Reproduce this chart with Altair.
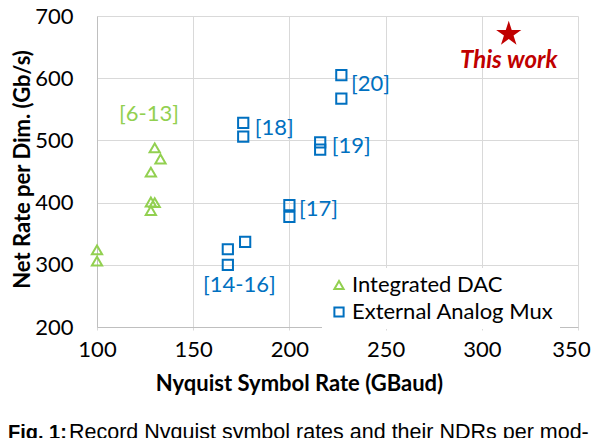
import altair as alt
import pandas as pd

# --- data ---
dac_x = [100, 100, 128, 128, 130, 128, 130, 133]
dac_y = [324, 306, 387, 401, 400, 449, 488, 470]

mux_x = [168, 168, 177, 176, 176, 200, 200, 216, 216, 227, 227]
mux_y = [300, 325, 337, 506, 528, 377, 396, 485, 497, 567, 605]

star_x = [314]
star_y = [671]

dac_labels = ["[6-13]"]
dac_lx = [127]
dac_ly = [542]

mux_center_labels = ["[14-16]"]
mux_center_lx = [174]
mux_center_ly = [267]

mux_left_labels = ["[17]", "[18]", "[19]", "[20]"]
mux_left_lx = [205, 182, 222, 232]
mux_left_ly = [389, 520, 491, 590]

this_work = ["This work"]
this_lx = [314]
this_ly = [628]

caption_bold = "Fig. 1:"
caption_rest = "Record Nyquist symbol rates and their NDRs per mod-"

series_names = ["Integrated DAC", "External Analog Mux"]
series_colors = ["#92D050", "#0070C0"]
series_shapes = ["triangle-up", "square"]

FONT = "Lato"
STAR_PATH = ("M0,-1L0.2245,-0.309L0.951,-0.309L0.363,0.118L0.588,0.809L0,0.382"
             "L-0.588,0.809L-0.363,0.118L-0.951,-0.309L-0.2245,-0.309Z")

pts = pd.DataFrame({
    "x": dac_x + mux_x,
    "y": dac_y + mux_y,
    "series": [series_names[0]] * len(dac_x) + [series_names[1]] * len(mux_x),
})

xscale = alt.Scale(domain=[100, 350], nice=False, zero=False)
yscale = alt.Scale(domain=[200, 700], nice=False, zero=False)

xaxis = alt.Axis(
    title="Nyquist Symbol Rate (GBaud)", values=[100, 150, 200, 250, 300, 350],
    grid=True, gridColor="#d9d9d9", domainColor="#bfbfbf", tickColor="#d9d9d9",
    tickSize=3, labelFont=FONT, labelFontSize=22, labelColor="#000000",
    labelPadding=9, labelFlush=False,
    labelOffset={"condition": {"test": "datum.value >= 350", "value": -7}, "value": 0},
    titleFont=FONT, titleFontSize=22,
    titleFontWeight="bold", titleColor="#000000", titleX=202, titleY=56,
    titleAlign="center", titleBaseline="middle",
)
yaxis = alt.Axis(
    title="Net Rate per Dim. (Gb/s)", values=[200, 300, 400, 500, 600, 700],
    grid=True, gridColor="#d9d9d9", domainColor="#bfbfbf", ticks=False,
    labelFont=FONT, labelFontSize=22, labelColor="#000000", labelPadding=24,
    labelFlush=False, titleFont=FONT, titleFontSize=22, titleFontWeight="bold",
    titleColor="#000000", titleX=-75, titleY=153, titleAlign="center",
    titleBaseline="middle", titleAngle=270,
)

points = alt.Chart(pts).mark_point(filled=False, strokeWidth=2, size=105, opacity=1).encode(
    x=alt.X("x:Q", scale=xscale, axis=xaxis),
    y=alt.Y("y:Q", scale=yscale, axis=yaxis),
    color=alt.Color("series:N", scale=alt.Scale(domain=series_names, range=series_colors),
                    legend=alt.Legend(
                        title=None, orient="none", legendX=225, legendY=252,
                        labelFont=FONT, labelFontSize=22, labelColor="#000000",
                        labelLimit=0, symbolStrokeWidth=2, symbolSize=85,
                        rowPadding=5, fillColor="white", padding=6, labelOffset=2,
                    )),
    shape=alt.Shape("series:N", scale=alt.Scale(domain=series_names, range=series_shapes)),
)

star = alt.Chart(pd.DataFrame({"x": star_x, "y": star_y})).mark_point(
    shape=STAR_PATH, filled=True, color="#C00000", size=700, opacity=1
).encode(x="x:Q", y="y:Q")

dlab = alt.Chart(pd.DataFrame({"x": dac_lx, "y": dac_ly, "t": dac_labels})).mark_text(
    font=FONT, fontSize=22, align="center", baseline="middle", color="#92D050"
).encode(x="x:Q", y="y:Q", text="t:N")

mclab = alt.Chart(pd.DataFrame({"x": mux_center_lx, "y": mux_center_ly, "t": mux_center_labels})).mark_text(
    font=FONT, fontSize=22, align="center", baseline="middle", color="#0070C0"
).encode(x="x:Q", y="y:Q", text="t:N")

mllab = alt.Chart(pd.DataFrame({"x": mux_left_lx, "y": mux_left_ly, "t": mux_left_labels})).mark_text(
    font=FONT, fontSize=22, align="left", baseline="middle", color="#0070C0"
).encode(x="x:Q", y="y:Q", text="t:N")

tw = alt.Chart(pd.DataFrame({"x": this_lx, "y": this_ly, "t": this_work})).mark_text(
    font=FONT, fontSize=24, fontWeight="bold", fontStyle="italic", align="center",
    baseline="middle", color="#C00000"
).encode(x="x:Q", y="y:Q", text="t:N")

cap1 = alt.Chart(pd.DataFrame({"t": [caption_bold]})).mark_text(
    font="Liberation Sans", fontSize=20, fontWeight="bold", align="left", baseline="alphabetic",
    color="#000000"
).encode(x=alt.value(-89), y=alt.value(423), text="t:N")

cap2 = alt.Chart(pd.DataFrame({"t": [caption_rest]})).mark_text(
    font="Liberation Sans", fontSize=21.5, align="left", baseline="alphabetic", color="#000000"
).encode(x=alt.value(-28), y=alt.value(423), text="t:N")

chart = alt.layer(points, star, dlab, mclab, mllab, tw, cap1, cap2).properties(
    width=481, height=311,
    padding={"left": 89, "top": 8, "right": 14, "bottom": 111},
    autosize=alt.AutoSizeParams(type="none"),
).configure_view(stroke=None)

chart.save("out.html", embed_options={"renderer": "svg", "actions": False})
